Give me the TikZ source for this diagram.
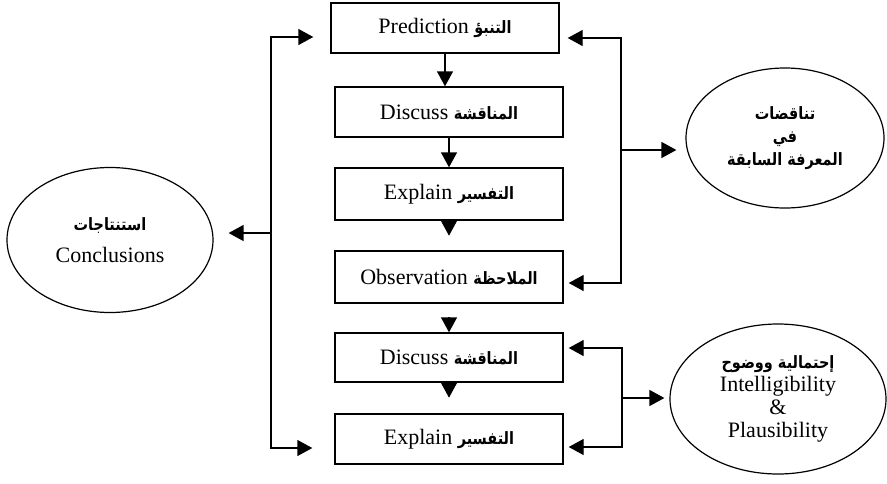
\documentclass[tikz,border=0pt]{standalone}
\usepackage{fontspec}
\setmainfont{Liberation Serif}
\newfontfamily\arabicfont[Script=Arabic]{DejaVu Sans}
\TeXXeTstate=1
\usetikzlibrary{arrows.meta,shapes.geometric}
\newcommand{\arb}[1]{\scalebox{0.85}[1]{\arabicfont\bfseries\fontsize{17}{23}\selectfont\beginR #1\endR}}
\tikzset{
  stagebox/.style={draw, line width=1.4pt, minimum width=228pt, minimum height=50pt, inner sep=0pt, font=\fontsize{22}{23}\selectfont},
  idea/.style={draw, ellipse, line width=1.2pt, inner sep=0pt, align=center, font=\fontsize{22}{23}\selectfont},
  arr/.style={line width=1.4pt, -{Triangle[length=15pt,width=16pt]}},
  bus/.style={line width=1.4pt, line cap=rect}
}

\begin{document}
\begin{tikzpicture}[x=1pt,y=-1pt]
  \useasboundingbox (0,0) rectangle (887,483);
  % stages
  \node[stagebox] (pred) at (445,28) {Prediction \arb{التنبؤ}};
  \node[stagebox] (disc1) at (449,112) {Discuss \arb{المناقشة}};
  \node[stagebox, minimum height=52pt] (expl1) at (449,194) {Explain \arb{التفسير}};
  \node[stagebox, minimum height=52pt] (obs) at (449,277) {Observation \arb{الملاحظة}};
  \node[stagebox, minimum height=49pt] (disc2) at (449,357.5) {Discuss \arb{المناقشة}};
  \node[stagebox] (expl2) at (449,439) {Explain \arb{التفسير}};
  % ellipses
  \node[idea, minimum width=206pt, minimum height=145pt] (concl) at (110,240) {\arb{استنتاجات}\\[9pt]Conclusions};
  \node[idea, minimum width=198pt, minimum height=140pt] (contra) at (785,138) {\arb{تناقضات}\\\arb{في}\\\arb{المعرفة السابقة}};
  \node[idea, minimum width=216pt, minimum height=150pt] (intel) at (778,399) {\arb{إحتمالية ووضوح}\\Intelligibility\\\&\\Plausibility};
  % down the column
  \draw[arr] (pred.south) -- (pred.south |- disc1.north);
  \draw[arr] (disc1) -- (expl1);
  \draw[arr] (expl1.south) -- ++(0,15);
  \draw[arr] ([yshift=15pt]disc2.north) -- (disc2.north);
  \draw[arr] (disc2.south) -- ++(0,15);
  % left bus
  \coordinate (lt) at (271,37);
  \coordinate (lb) at (271,448);
  \coordinate (lm) at (271,233);
  \draw[bus] (lt) -- (lb);
  \draw[arr, shorten >=17pt] (lt) -- (lt -| pred.west);
  \draw[arr, shorten >=22pt] (lb) -- (lb -| expl2.west);
  \draw[arr, shorten >=15pt] (lm) -- (lm -| concl.east);
  % upper right bus
  \coordinate (rt) at (621,38);
  \coordinate (rb) at (621,283);
  \coordinate (rm) at (621,150);
  \draw[bus] (rt) -- (rb);
  \draw[arr, shorten >=8pt] (rt) -- (rt -| pred.east);
  \draw[arr, shorten >=5pt] (rb) -- (rb -| obs.east);
  \draw[arr, shorten >=9pt] (rm) -- (rm -| contra.west);
  % lower right bus
  \coordinate (st) at (622,348);
  \coordinate (sb) at (622,447);
  \coordinate (sm) at (622,398);
  \draw[bus] (st) -- (sb);
  \draw[arr, shorten >=5pt] (st) -- (st -| disc2.east);
  \draw[arr, shorten >=5pt] (sb) -- (sb -| expl2.east);
  \draw[arr, shorten >=5pt] (sm) -- (sm -| intel.west);
\end{tikzpicture}
\end{document}
